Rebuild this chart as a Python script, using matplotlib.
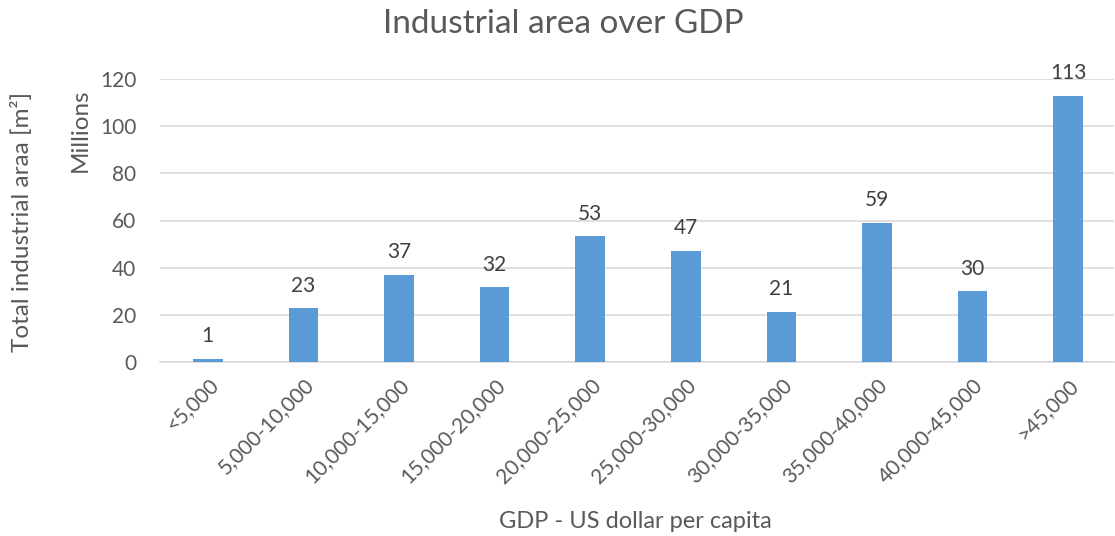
import numpy as np
import matplotlib.pyplot as plt

plt.rcParams['font.family'] = ['Lato', 'DejaVu Sans']

# GDP bands and total industrial area (millions of m²)
bands = ['<5,000', '5,000-10,000', '10,000-15,000', '15,000-20,000',
         '20,000-25,000', '25,000-30,000', '30,000-35,000', '35,000-40,000',
         '40,000-45,000', '>45,000']
area = [1.3, 22.8, 37.0, 31.6, 53.3, 47.1, 21.4, 59.0, 29.9, 112.8]
yticks = [0, 20, 40, 60, 80, 100, 120]

grey = '#595959'
fig = plt.figure(figsize=(11.15, 5.36), dpi=100)
ax = fig.add_axes([160/1115, 1 - 362/536, (1114-160)/1115, (362-79)/536])

x = np.arange(len(bands))
bars = ax.bar(x, area, width=0.31, color='#5B9BD5', zorder=3)
for b, v in zip(bars, area):
    ax.annotate(f'{v:.0f}', (b.get_x() + b.get_width()/2, v), xytext=(0, 9),
                textcoords='offset points', ha='center', va='bottom',
                fontsize=15, color='#404040')

ax.set_xlim(-0.5, len(bands) - 0.52)
ax.set_ylim(0, 120)
ax.set_yticks(yticks)
ax.grid(axis='y', color='#D9D9D9', linewidth=1.2, zorder=0)
ax.set_xticks(x)
ax.set_xticklabels(bands, rotation=45, ha='right', rotation_mode='anchor')
ax.tick_params(length=0, labelsize=15, colors=grey, pad=9)
ax.tick_params(axis='y', pad=17)
for s in ['top', 'right', 'left']:
    ax.spines[s].set_visible(False)
ax.spines['bottom'].set_color('#D9D9D9')
ax.spines['bottom'].set_linewidth(1.2)

fig.text(0.505, 1 - 24/536, 'Industrial area over GDP', ha='center', va='center',
         fontsize=24, color=grey)
fig.text(22/1115, 1 - 222/536, 'Total industrial araa [m²]', rotation=90,
         ha='center', va='center', fontsize=17.5, color=grey)
fig.text(80/1115, 1 - 130/536, 'Millions', rotation=90,
         ha='center', va='center', fontsize=17.5, color=grey)
fig.text(635/1115, 1 - 521/536, 'GDP - US dollar per capita', ha='center',
         va='center', fontsize=17, color=grey)

fig.savefig('out.png', dpi=100)
